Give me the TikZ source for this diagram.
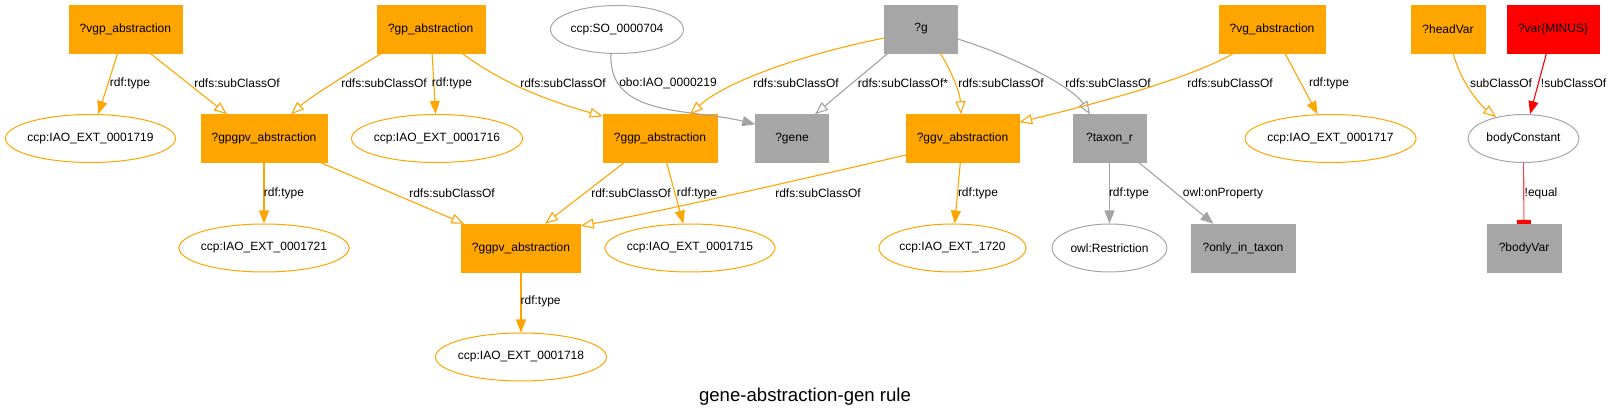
\documentclass[tikz,border=0pt]{standalone}
\usepackage{fontspec}
\setmainfont{Liberation Sans}
\usetikzlibrary{arrows.meta,shapes.geometric}
\definecolor{gvorange}{RGB}{255,165,0}
\definecolor{gvgray}{RGB}{166,166,166}
\definecolor{gvedgegray}{RGB}{163,163,163}
\definecolor{gvred}{RGB}{255,0,0}
\definecolor{gvlightred}{RGB}{255,70,70}
\begin{document}
\begin{tikzpicture}[x=1pt,y=-1pt,
  every node/.style={font=\fontsize{12}{14}\selectfont, inner sep=0pt},
  obox/.style={rectangle, fill=gvorange, draw=gvorange, minimum height=48pt},
  gbox/.style={rectangle, fill=gvgray, draw=gvgray, minimum height=48pt},
  rbox/.style={rectangle, fill=gvred, draw=gvred, minimum height=48pt},
  oell/.style={ellipse, draw=gvorange, fill=white, line width=1pt, minimum height=48pt, inner xsep=-6pt},
  gell/.style={ellipse, draw=gvgray, fill=white, line width=1pt, minimum height=48pt, inner xsep=-6pt},
  lbl/.style={text=black},
  oedge/.style={draw=gvorange, line width=1.1pt},
  gedge/.style={draw=gvedgegray, line width=1.1pt},
  redge/.style={draw=gvred, line width=1.1pt},
  lredge/.style={draw=gvlightred, line width=1.1pt},
  filledtip/.style={-{Triangle[length=13pt,width=10pt]}},
  opentip/.style={-{Triangle[open,length=13pt,width=10pt]}},
  teetip/.style={-{Rectangle[length=4pt,width=14pt,color=gvred]}},
]
\useasboundingbox (0,0) rectangle (1612,419);

% nodes
\node[obox, minimum width=113pt] (vgp) at (125.4,29) {?vgp\_abstraction};
\node[obox, minimum width=108pt] (gp) at (430.7,29) {?gp\_abstraction};
\node[gell, minimum width=133pt] (so) at (617,29.5) {ccp:SO\_0000704};
\node[gbox, minimum width=73pt] (g) at (921,29) {?g};
\node[obox, minimum width=106pt] (vg) at (1272,29) {?vg\_abstraction};
\node[obox, minimum width=74pt] (head) at (1448,29) {?headVar};
\node[rbox, minimum width=91.5pt] (minus) at (1553,29) {?var\{MINUS\}};
\node[oell, minimum width=170pt] (e19) at (90.5,138.5) {ccp:IAO\_EXT\_0001719};
\node[obox, minimum width=126pt] (gpgpv) at (264,138.5) {?gpgpv\_abstraction};
\node[oell, minimum width=171pt] (e16) at (437,138.5) {ccp:IAO\_EXT\_0001716};
\node[obox, minimum width=114pt] (ggp) at (660,138.5) {?ggp\_abstraction};
\node[gbox, minimum width=73pt] (gene) at (792,138.5) {?gene};
\node[obox, minimum width=113pt] (ggv) at (962.5,138.5) {?ggv\_abstraction};
\node[gbox, minimum width=73pt] (taxon) at (1109.5,138.5) {?taxon\_r};
\node[oell, minimum width=171pt] (e17) at (1330.5,138.5) {ccp:IAO\_EXT\_0001717};
\node[gell, minimum width=111pt] (bc) at (1523.5,138.5) {bodyConstant};
\node[oell, minimum width=170pt] (e21) at (264,248) {ccp:IAO\_EXT\_0001721};
\node[obox, minimum width=119pt] (ggpv) at (521,248) {?ggpv\_abstraction};
\node[oell, minimum width=170pt] (e15) at (690,248) {ccp:IAO\_EXT\_0001715};
\node[oell, minimum width=147pt] (e1720) at (952.5,248) {ccp:IAO\_EXT\_1720};
\node[gell, minimum width=115pt] (restr) at (1109.5,248) {owl:Restriction};
\node[gbox, minimum width=104pt] (only) at (1243,248) {?only\_in\_taxon};
\node[gbox, minimum width=74pt] (bv) at (1524,248) {?bodyVar};
\node[oell, minimum width=171pt] (e18) at (521,357) {ccp:IAO\_EXT\_0001718};
\node[font=\fontsize{18.6}{22}\selectfont] (title) at (805,397) {gene-abstraction-gen rule};

% edges
\draw[oedge, filledtip] (vgp) -- (e19) node[lbl, at={(130,83)}] {rdf:type};
\draw[oedge, opentip] ([xshift=24.6pt]vgp.south) -- ([xshift=-37pt]gpgpv.north) node[lbl, at={(237,83)}] {rdfs:subClassOf};
\draw[oedge, opentip] ([xshift=-48.7pt]gp.south) .. controls (360,66) and (310,97) .. ([xshift=27pt]gpgpv.north) node[lbl, at={(384,83)}] {rdfs:subClassOf};
\draw[oedge, filledtip] (gp) -- (e16) node[lbl, at={(452,83)}] {rdf:type};
\draw[oedge, opentip] ([xshift=31.3pt]gp.south) .. controls (495,78) and (535,97) .. ([yshift=-2pt]ggp.north west) node[lbl, at={(563,83)}] {rdfs:subClassOf};
\draw[gedge, filledtip] ([xshift=-6pt]so.south) .. controls (608,118) and (690,108) .. ([yshift=-10pt]gene.north west) node[lbl, at={(668,83)}] {obo:IAO\_0000219};
\draw[oedge, opentip] ([yshift=-9pt]g.west) .. controls (800,55) and (725,82) .. ([xshift=30pt]ggp.north) node[lbl, at={(796,83)}] {rdfs:subClassOf};
\draw[gedge, opentip] ([xshift=-33pt]g.south) -- ([xshift=23pt]gene.north) node[lbl, at={(903,83)}] {rdfs:subClassOf*};
\draw[oedge, opentip] ([xshift=19pt]g.south) .. controls (950,68) and (960,92) .. ([xshift=-1.5pt]ggv.north) node[lbl, at={(1001,83)}] {rdfs:subClassOf};
\draw[gedge, opentip] ([yshift=-10pt]g.east) .. controls (1010,55) and (1072,86) .. ([xshift=-19.5pt]taxon.north) node[lbl, at={(1108,83)}] {rdfs:subClassOf};
\draw[oedge, opentip] ([xshift=-38pt]vg.south) .. controls (1190,78) and (1110,100) .. ([yshift=-8pt]ggv.north east) node[lbl, at={(1230,83)}] {rdfs:subClassOf};
\draw[oedge, filledtip] (vg) -- (e17) node[lbl, at={(1329,83)}] {rdf:type};
\draw[oedge, opentip] ([xshift=5pt]head.south) .. controls (1461,82) and (1478,103) .. (bc.142) node[lbl, at={(1501,83)}] {subClassOf};
\draw[redge, filledtip] (minus) -- (bc) node[lbl, at={(1573.6,83)}] {!subClassOf};
\draw[lredge, teetip] (bc) -- (bv) node[lbl, at={(1541,193)}] {!equal};
\draw[oedge, filledtip] (gpgpv) -- (e21) node[lbl, at={(284,193)}] {rdf:type};
\draw[oedge, opentip] (gpgpv) -- (ggpv) node[lbl, at={(452,193)}] {rdfs:subClassOf};
\draw[oedge, opentip] ([xshift=-36pt]ggp.south) -- ([xshift=24pt]ggpv.north) node[lbl, at={(631,193)}] {rdf:subClassOf};
\draw[oedge, filledtip] (ggp) -- (e15) node[lbl, at={(697,193)}] {rdf:type};
\draw[oedge, opentip] ([yshift=-16.5pt]ggv.west) .. controls (820,175) and (660,212) .. ([yshift=-2pt]ggpv.north east) node[lbl, at={(818,193)}] {rdfs:subClassOf};
\draw[oedge, filledtip] (ggv) -- (e1720) node[lbl, at={(978,193)}] {rdf:type};
\draw[gedge, filledtip] (taxon) -- (restr) node[lbl, at={(1129,193)}] {rdf:type};
\draw[gedge, filledtip] (taxon) -- (only) node[lbl, at={(1223,193)}] {owl:onProperty};
\draw[oedge, filledtip] (ggpv) -- (e18) node[lbl, at={(540.6,301.7)}] {rdf:type};
\end{tikzpicture}
\end{document}
